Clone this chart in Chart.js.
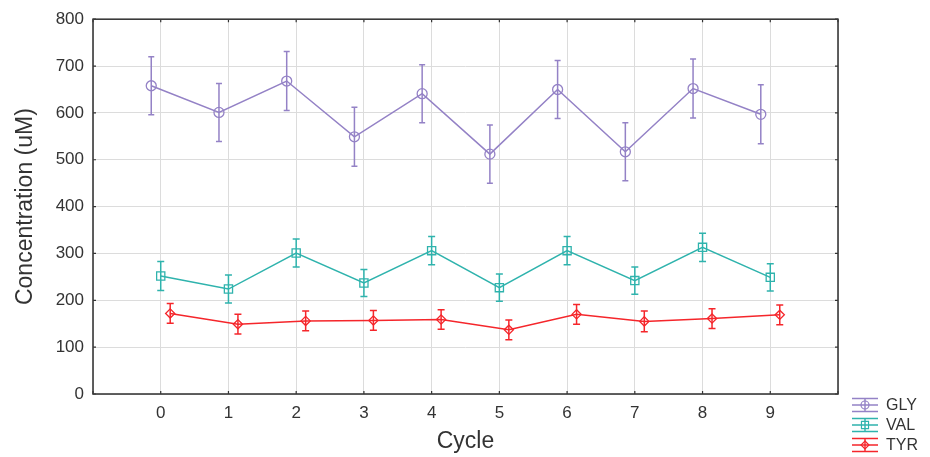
<!DOCTYPE html>
<html><head><meta charset="utf-8">
<script src="https://cdn.jsdelivr.net/npm/chart.js@4"></script>
<style>html,body{margin:0;padding:0;background:#fff;}#wrap{width:930px;height:457px;position:relative;}</style>
</head><body><div id="wrap"><canvas id="c" width="930" height="457"></canvas></div>
<script>
// ---- data ----
const cycles = [0, 1, 2, 3, 4, 5, 6, 7, 8, 9];
const xTickLabels = ['0', '1', '2', '3', '4', '5', '6', '7', '8', '9'];
const seriesNames = ['GLY', 'VAL', 'TYR'];
const glyMean = [658, 601, 668, 549, 641, 512, 650, 517, 652, 597];
const glyErr  = [62, 62, 63, 63, 62, 62, 62, 62, 63, 63];
const valMean = [252, 224, 301, 237, 306, 227, 306, 242, 313, 249];
const valErr  = [31, 30, 30, 29, 30, 29, 30, 29, 30, 29];
const tyrMean = [172, 149, 156, 157, 159, 137, 170, 155, 161, 169];
const tyrErr  = [21, 21, 21, 21, 21, 21, 21, 22, 21, 21];
const yTickValues = [0, 100, 200, 300, 400, 500, 600, 700, 800];

// ---- styling ----
const colors = ['#9482c6', '#2fb3ad', '#f5262b'];
const dodge = [-0.14, 0, 0.14];
const pointStyles = ['circle', 'rect', 'rectRot'];
const pointRadii = [5, 5.8, 4.6];
const capHalf = [3, 3.5, 3.5];
const means = [glyMean, valMean, tyrMean];
const errs = [glyErr, valErr, tyrErr];
const textColor = '#333';
const FONT = "'Liberation Sans', Arial, sans-serif";

Chart.defaults.font.family = FONT;
Chart.defaults.color = textColor;

const datasets = seriesNames.map((name, s) => ({
  label: name,
  data: cycles.map((c, i) => ({ x: c + dodge[s], y: means[s][i] })),
  errors: errs[s],
  showLine: true,
  borderColor: colors[s],
  backgroundColor: 'rgba(0,0,0,0)',
  borderWidth: 1.5,
  pointStyle: pointStyles[s],
  pointRadius: pointRadii[s],
  pointBorderWidth: 1.3,
  pointBorderColor: colors[s],
  pointBackgroundColor: 'rgba(0,0,0,0)',
  capHalf: capHalf[s]
}));

function drawMarker(ctx, style, x, y, r) {
  ctx.beginPath();
  if (style === 'circle') {
    ctx.arc(x, y, r, 0, Math.PI * 2);
  } else if (style === 'rect') {
    const h = r * Math.SQRT1_2;
    ctx.rect(x - h, y - h, 2 * h, 2 * h);
  } else {
    ctx.moveTo(x, y - r); ctx.lineTo(x + r, y); ctx.lineTo(x, y + r); ctx.lineTo(x - r, y); ctx.closePath();
  }
  ctx.stroke();
}

const decor = {
  id: 'decor',
  afterDatasetsDraw(chart) {
    const ctx = chart.ctx, yS = chart.scales.y;
    chart.data.datasets.forEach((ds, s) => {
      const meta = chart.getDatasetMeta(s);
      ctx.save();
      ctx.strokeStyle = ds.borderColor;
      ctx.lineWidth = 1.5;
      meta.data.forEach((pt, i) => {
        const v = ds.data[i].y, e = ds.errors[i];
        const yt = yS.getPixelForValue(v + e), yb = yS.getPixelForValue(v - e);
        const x = pt.x, c = ds.capHalf;
        ctx.beginPath();
        ctx.moveTo(x, yt); ctx.lineTo(x, yb);
        ctx.moveTo(x - c, yt); ctx.lineTo(x + c, yt);
        ctx.moveTo(x - c, yb); ctx.lineTo(x + c, yb);
        ctx.stroke();
      });
      ctx.restore();
    });
  },
  afterDraw(chart) {
    const ctx = chart.ctx, a = chart.chartArea;
    const xS = chart.scales.x, yS = chart.scales.y;
    ctx.save();
    // inward tick marks
    ctx.strokeStyle = '#333';
    ctx.lineWidth = 1.2;
    ctx.beginPath();
    xS.ticks.forEach(t => {
      const x = xS.getPixelForValue(t.value);
      ctx.moveTo(x, a.bottom); ctx.lineTo(x, a.bottom - 3);
      ctx.moveTo(x, a.top); ctx.lineTo(x, a.top + 3);
    });
    yS.ticks.forEach(t => {
      const y = yS.getPixelForValue(t.value);
      ctx.moveTo(a.left, y); ctx.lineTo(a.left + 3, y);
      ctx.moveTo(a.right, y); ctx.lineTo(a.right - 3, y);
    });
    ctx.stroke();
    // frame
    ctx.strokeStyle = '#3a3a3a';
    ctx.lineWidth = 1.6;
    ctx.strokeRect(a.left, a.top, a.right - a.left, a.bottom - a.top);
    // legend
    const lx0 = 852, lx1 = 878, ltx = 886, ly0 = 405, lstep = 20, lcap = 6.5;
    chart.data.datasets.forEach((ds, s) => {
      const cy = ly0 + s * lstep, cx = (lx0 + lx1) / 2;
      ctx.strokeStyle = ds.borderColor;
      ctx.lineWidth = 1.4;
      ctx.beginPath();
      [-lcap, 0, lcap].forEach(d => { ctx.moveTo(lx0, cy + d); ctx.lineTo(lx1, cy + d); });
      ctx.moveTo(cx, cy - lcap); ctx.lineTo(cx, cy + lcap);
      ctx.stroke();
      ctx.lineWidth = 1.2;
      drawMarker(ctx, pointStyles[s], cx, cy, s === 1 ? 5 : 4);
      ctx.fillStyle = textColor;
      ctx.font = '16px ' + FONT;
      ctx.textBaseline = 'middle';
      ctx.textAlign = 'left';
      ctx.fillText(ds.label, ltx, cy + 1);
    });
    ctx.restore();
  }
};

new Chart(document.getElementById('c'), {
  type: 'scatter',
  data: { datasets },
  plugins: [decor],
  options: {
    responsive: false,
    animation: false,
    events: [],
    layout: { padding: { top: 17, right: 92, left: 0, bottom: 0 } },
    plugins: { legend: { display: false }, tooltip: { enabled: false } },
    scales: {
      x: {
        type: 'linear', min: -1, max: 10,
        afterFit: s => { s.height = 63; },
        ticks: {
          stepSize: 1, autoSkip: false, maxRotation: 0, padding: 9,
          font: { size: 17 }, color: textColor,
          callback: v => (cycles.indexOf(v) >= 0 ? xTickLabels[cycles.indexOf(v)] : '')
        },
        grid: { color: '#dcdcdc', lineWidth: 1, drawTicks: false },
        border: { display: false },
        title: { display: true, text: 'Cycle', font: { size: 23 }, color: textColor, padding: { top: 0, bottom: 2 } }
      },
      y: {
        min: 0, max: 800,
        afterFit: s => { s.width = 93; },
        afterBuildTicks: s => { s.ticks = yTickValues.map(v => ({ value: v })); },
        ticks: { padding: 9, font: { size: 17 }, color: textColor },
        grid: { color: '#dcdcdc', lineWidth: 1, drawTicks: false },
        border: { display: false },
        title: { display: true, text: 'Concentration (uM)', font: { size: 23 }, color: textColor, padding: { top: 12, bottom: 0 } }
      }
    }
  }
});
</script></body></html>
